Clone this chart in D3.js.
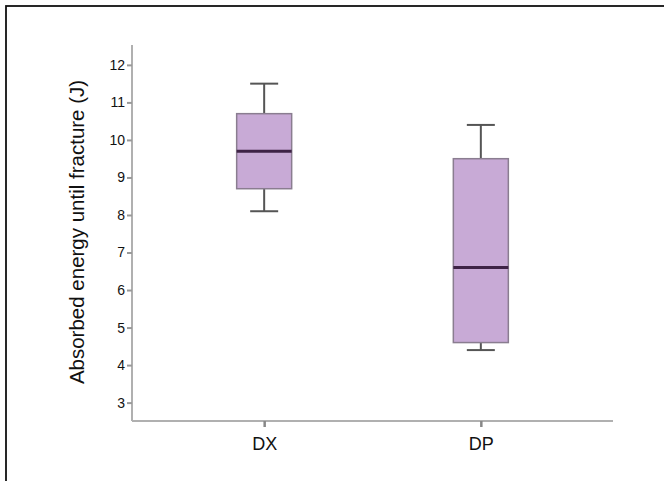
<!DOCTYPE html>
<html><head><meta charset="utf-8">
<script src="https://cdn.jsdelivr.net/npm/d3@7"></script>
<style>body{margin:0;background:#fff}svg{display:block}</style>
</head><body>
<svg id="c" width="664" height="481"></svg>
<script>
const categories = ["DX", "DP"];
const whiskerLow = [8.1, 4.4];
const q1 = [8.7, 4.6];
const median = [9.7, 6.6];
const q3 = [10.7, 9.5];
const whiskerHigh = [11.5, 10.4];
const yTicks = [3, 4, 5, 6, 7, 8, 9, 10, 11, 12];

(function () {
const svg = d3.select("#c");
const font = "'Liberation Sans', Arial, Helvetica, sans-serif";

// frame
svg.append("rect").attr("x", 6).attr("y", 6).attr("width", 700).attr("height", 500)
  .attr("fill", "none").attr("stroke", "#111").attr("stroke-width", 1.8);

const mLeft = 132, mRight = 613, mTop = 45, mBottom = 421;
const y = d3.scaleLinear().domain([2.51, 12.53]).range([mBottom, mTop]);
const x = d3.scalePoint().domain(categories).range([mLeft, mRight]).padding(0.61);

// axes
const yAxis = svg.append("g").attr("transform", `translate(${mLeft},0)`)
  .call(d3.axisLeft(y).tickValues(yTicks).tickSize(5).tickPadding(2).tickFormat(d3.format("d")));
yAxis.select(".domain").attr("stroke", "#b0b0b0").attr("stroke-width", 2).attr("d", `M0,${mTop}V${mBottom}`);
yAxis.selectAll(".tick line").attr("stroke", "#999").attr("stroke-width", 2);
yAxis.selectAll(".tick text").attr("font-family", font).attr("font-size", 14).attr("fill", "#111");

const xAxis = svg.append("g").attr("transform", `translate(0,${mBottom})`)
  .call(d3.axisBottom(x).tickSize(6).tickPadding(10));
xAxis.select(".domain").attr("stroke", "#b0b0b0").attr("stroke-width", 2).attr("d", `M${mLeft},0H${mRight}`);
xAxis.selectAll(".tick line").attr("stroke", "#888").attr("stroke-width", 2.5);
xAxis.selectAll(".tick text").attr("font-family", font).attr("font-size", 18).attr("fill", "#111");

// y label
svg.append("text").attr("transform", `translate(84,${232}) rotate(-90)`)
  .attr("text-anchor", "middle").attr("font-family", font).attr("font-size", 20.5).attr("fill", "#111")
  .text("Absorbed energy until fracture (J)");

const boxW = 55, capW = 28;
const g = svg.append("g");
categories.forEach((c, i) => {
  const cx = x(c);
  g.append("line").attr("x1", cx).attr("x2", cx).attr("y1", y(whiskerHigh[i])).attr("y2", y(q3[i]))
    .attr("stroke", "#555").attr("stroke-width", 2);
  g.append("line").attr("x1", cx).attr("x2", cx).attr("y1", y(q1[i])).attr("y2", y(whiskerLow[i]))
    .attr("stroke", "#555").attr("stroke-width", 2);
  g.append("line").attr("x1", cx - capW/2).attr("x2", cx + capW/2).attr("y1", y(whiskerHigh[i])).attr("y2", y(whiskerHigh[i]))
    .attr("stroke", "#555").attr("stroke-width", 2);
  g.append("line").attr("x1", cx - capW/2).attr("x2", cx + capW/2).attr("y1", y(whiskerLow[i])).attr("y2", y(whiskerLow[i]))
    .attr("stroke", "#555").attr("stroke-width", 2);
  g.append("rect").attr("x", cx - boxW/2).attr("width", boxW)
    .attr("y", y(q3[i])).attr("height", y(q1[i]) - y(q3[i]))
    .attr("fill", "#c8aad6").attr("stroke", "#8a7d90").attr("stroke-width", 1.5);
  g.append("line").attr("x1", cx - boxW/2).attr("x2", cx + boxW/2).attr("y1", y(median[i])).attr("y2", y(median[i]))
    .attr("stroke", "#3e2346").attr("stroke-width", 3);
});
})();
</script>
</body></html>
